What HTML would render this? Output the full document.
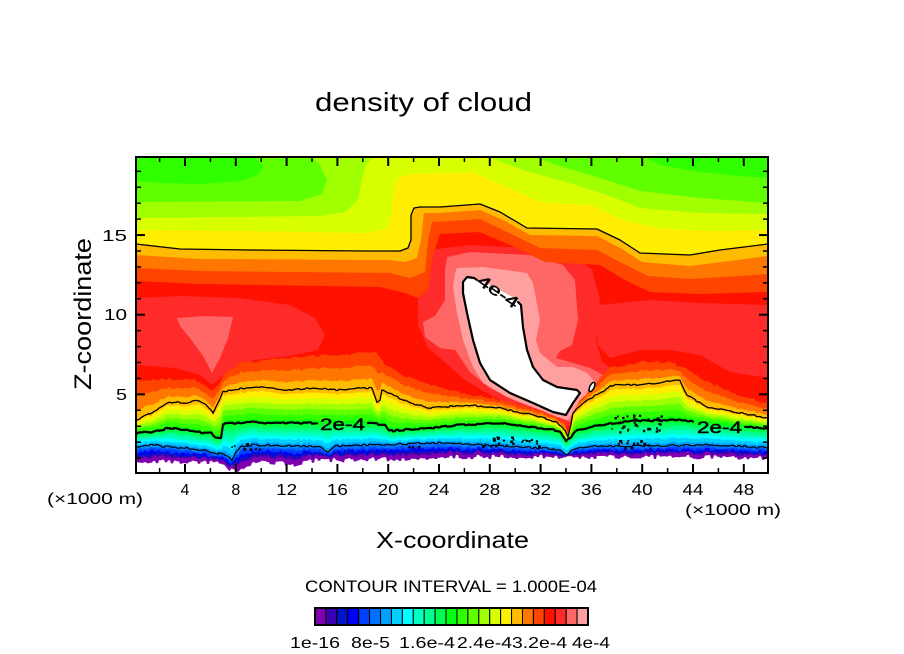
<!DOCTYPE html>
<html><head><meta charset="utf-8">
<style>
html,body{margin:0;padding:0;background:#fff;}
svg{display:block;}
text{font-family:"Liberation Sans",sans-serif;fill:#000;}
</style></head>
<body>
<svg id="s" width="904" height="654" viewBox="0 0 904 654" xmlns="http://www.w3.org/2000/svg">
<defs><clipPath id="cp"><rect x="136" y="157" width="632" height="316"/></clipPath></defs>
<rect width="904" height="654" fill="#fff"/>
<g id="field" clip-path="url(#cp)"></g>
<g id="lines" clip-path="url(#cp)" fill="none" stroke="#000" stroke-linejoin="round" stroke-linecap="round"></g>

<!-- contour labels -->
<text x="342.5" y="430" font-size="17" text-anchor="middle" textLength="45" lengthAdjust="spacingAndGlyphs" stroke="#000" stroke-width="0.5">2e-4</text>
<text x="719.5" y="433" font-size="17" text-anchor="middle" textLength="45" lengthAdjust="spacingAndGlyphs" stroke="#000" stroke-width="0.5">2e-4</text>
<text transform="translate(498,292) rotate(34)" y="5" font-size="16" text-anchor="middle" textLength="46" lengthAdjust="spacingAndGlyphs" stroke="#000" stroke-width="0.5">4e-4</text>

<rect x="136" y="157" width="632" height="316" fill="none" stroke="#000" stroke-width="2"/>
<g id="ticks" stroke="#000"></g>

<!-- title -->
<text x="423.5" y="111" font-size="26" text-anchor="middle" textLength="217" lengthAdjust="spacingAndGlyphs">density of cloud</text>

<!-- y axis -->
<text transform="translate(91,314) rotate(-90)" font-size="24" text-anchor="middle" textLength="152" lengthAdjust="spacingAndGlyphs">Z-coordinate</text>
<text x="127" y="241" font-size="16" text-anchor="end" textLength="25" lengthAdjust="spacingAndGlyphs">15</text>
<text x="127" y="320" font-size="16" text-anchor="end" textLength="23" lengthAdjust="spacingAndGlyphs">10</text>
<text x="127" y="400" font-size="16" text-anchor="end" textLength="11" lengthAdjust="spacingAndGlyphs">5</text>

<!-- x axis -->
<g font-size="16" text-anchor="middle">
<text x="185" y="495">4</text>
<text x="235.8" y="495">8</text>
<text x="286.6" y="495" textLength="21" lengthAdjust="spacingAndGlyphs">12</text>
<text x="337.4" y="495" textLength="21" lengthAdjust="spacingAndGlyphs">16</text>
<text x="388.2" y="495" textLength="21" lengthAdjust="spacingAndGlyphs">20</text>
<text x="439" y="495" textLength="21" lengthAdjust="spacingAndGlyphs">24</text>
<text x="489.8" y="495" textLength="21" lengthAdjust="spacingAndGlyphs">28</text>
<text x="540.6" y="495" textLength="21" lengthAdjust="spacingAndGlyphs">32</text>
<text x="591.4" y="495" textLength="21" lengthAdjust="spacingAndGlyphs">36</text>
<text x="642.2" y="495" textLength="21" lengthAdjust="spacingAndGlyphs">40</text>
<text x="693" y="495" textLength="21" lengthAdjust="spacingAndGlyphs">44</text>
<text x="743.8" y="495" textLength="21" lengthAdjust="spacingAndGlyphs">48</text>
</g>
<text x="95" y="504" font-size="16" text-anchor="middle" textLength="96" lengthAdjust="spacingAndGlyphs">(×1000 m)</text>
<text x="733" y="515" font-size="16" text-anchor="middle" textLength="96" lengthAdjust="spacingAndGlyphs">(×1000 m)</text>
<text x="452.5" y="548" font-size="23" text-anchor="middle" textLength="153" lengthAdjust="spacingAndGlyphs">X-coordinate</text>

<text x="451" y="592" font-size="16.5" text-anchor="middle" textLength="292" lengthAdjust="spacingAndGlyphs">CONTOUR INTERVAL = 1.000E-04</text>

<!-- colorbar -->
<g stroke="#000" stroke-width="1">
<rect x="315.00" y="608" width="10.92" height="17" fill="#8000b0"/>
<rect x="325.92" y="608" width="10.92" height="17" fill="#3c00b4"/>
<rect x="336.84" y="608" width="10.92" height="17" fill="#0014c8"/>
<rect x="347.76" y="608" width="10.92" height="17" fill="#0000f5"/>
<rect x="358.68" y="608" width="10.92" height="17" fill="#0040ff"/>
<rect x="369.60" y="608" width="10.92" height="17" fill="#0070ff"/>
<rect x="380.52" y="608" width="10.92" height="17" fill="#00a0ff"/>
<rect x="391.44" y="608" width="10.92" height="17" fill="#00d0ff"/>
<rect x="402.36" y="608" width="10.92" height="17" fill="#00ffff"/>
<rect x="413.28" y="608" width="10.92" height="17" fill="#00ffc0"/>
<rect x="424.20" y="608" width="10.92" height="17" fill="#00ff90"/>
<rect x="435.12" y="608" width="10.92" height="17" fill="#00ff50"/>
<rect x="446.04" y="608" width="10.92" height="17" fill="#00ff10"/>
<rect x="456.96" y="608" width="10.92" height="17" fill="#30ff00"/>
<rect x="467.88" y="608" width="10.92" height="17" fill="#60ff00"/>
<rect x="478.80" y="608" width="10.92" height="17" fill="#a0ff00"/>
<rect x="489.72" y="608" width="10.92" height="17" fill="#d8ff00"/>
<rect x="500.64" y="608" width="10.92" height="17" fill="#ffee00"/>
<rect x="511.56" y="608" width="10.92" height="17" fill="#ffbb00"/>
<rect x="522.48" y="608" width="10.92" height="17" fill="#ff7700"/>
<rect x="533.40" y="608" width="10.92" height="17" fill="#ff4400"/>
<rect x="544.32" y="608" width="10.92" height="17" fill="#ff1100"/>
<rect x="555.24" y="608" width="10.92" height="17" fill="#ff2a2a"/>
<rect x="566.16" y="608" width="10.92" height="17" fill="#ff6666"/>
<rect x="577.08" y="608" width="10.92" height="17" fill="#ffa0a0"/>
</g>
<rect x="315" y="608" width="273" height="17" fill="none" stroke="#000" stroke-width="2"/>
<g font-size="16" text-anchor="middle">
<text x="315" y="648" textLength="50" lengthAdjust="spacingAndGlyphs">1e-16</text>
<text x="370.5" y="648" textLength="39" lengthAdjust="spacingAndGlyphs">8e-5</text>
<text x="427" y="648" textLength="56" lengthAdjust="spacingAndGlyphs">1.6e-4</text>
<text x="484.5" y="648" textLength="55" lengthAdjust="spacingAndGlyphs">2.4e-4</text>
<text x="539.5" y="648" textLength="55" lengthAdjust="spacingAndGlyphs">3.2e-4</text>
<text x="591" y="648" textLength="38" lengthAdjust="spacingAndGlyphs">4e-4</text>
</g>
</svg>
<script>
(function(){
const NS='http://www.w3.org/2000/svg';
const F=document.getElementById('field'), LN=document.getElementById('lines'), T=document.getElementById('ticks');
function el(tag,attrs,parent){const e=document.createElementNS(NS,tag);for(const k in attrs)e.setAttribute(k,attrs[k]);parent.appendChild(e);return e;}
function ps(p){return p.map(q=>q[0].toFixed(1)+','+q[1].toFixed(1)).join(' ');}
function poly(p,fill){el('polygon',{points:ps(p),fill:fill},F);}
function pline(p,w){el('polyline',{points:ps(p),'stroke-width':w},LN);}
function interp(p,x){
  if(x<=p[0][0])return p[0][1];
  for(let i=1;i<p.length;i++){if(x<=p[i][0]){const a=p[i-1],b=p[i];return b[0]===a[0]?b[1]:a[1]+(b[1]-a[1])*(x-a[0])/(b[0]-a[0]);}}
  return p[p.length-1][1];
}
function h(i,s){const v=Math.sin(i*127.1+s*311.7)*43758.5453;return v-Math.floor(v);}
function nz(x,s,step,amp){return (h(Math.floor(x/step),s)-0.5)*2*amp;}
const C=[null,'#8000b0','#3c00b4','#0014c8','#0000f5','#0040ff','#0070ff','#00a0ff','#00d0ff','#00ffff','#00ffc0','#00ff90','#00ff50','#00ff10','#30ff00','#60ff00','#a0ff00','#d8ff00','#ffee00','#ffbb00','#ff7700','#ff4400','#ff1100','#ff2a2a','#ff6666','#ffa0a0'];

// base red
poly([[130,150],[775,150],[775,480],[130,480]],'#ff1100');

// lighter red patches
poly([[136,298],[180,296],[240,298],[290,305],[315,318],[325,335],[318,350],[290,356],[255,360],[235,368],[220,378],[212,385],[200,375],[175,368],[150,366],[136,365]],'#ff2a2a');
poly([[177,318],[205,316],[233,317],[228,338],[220,358],[212,373],[203,356],[190,338],[180,326]],'#ff6666');
poly([[600,305],[650,300],[700,303],[768,305],[768,378],[730,372],[700,355],[670,350],[640,350],[610,358],[598,345],[595,320]],'#ff2a2a');
poly([[430,250],[470,245],[530,248],[575,256],[592,270],[600,300],[596,340],[602,362],[615,372],[605,388],[590,402],[578,418],[566,428],[540,415],[510,405],[485,392],[462,378],[445,362],[428,348],[418,325],[418,300],[422,270]],'#ff2a2a');
poly([[447,257],[470,252],[530,255],[563,265],[575,280],[578,320],[572,345],[560,351],[556,358],[570,362],[590,368],[603,375],[607,383],[595,395],[580,410],[570,422],[545,412],[515,401],[490,388],[470,372],[455,350],[440,348],[425,337],[423,322],[435,316],[445,300],[445,270]],'#ff6666');
poly([[455,273],[457,268],[483,267],[527,273],[533,283],[540,320],[536,340],[540,353],[557,367],[573,367],[587,373],[595,382],[588,392],[582,402],[573,413],[568,420],[557,417],[533,407],[507,397],[483,383],[473,367],[463,340],[457,313],[453,287]],'#ffa0a0');

// upper bands
const U3=[[136,244],[180,249],[250,250],[365,251],[400,251],[408,248],[411,240],[411,215],[414,208],[420,207],[440,207],[480,204],[500,212],[527,228],[597,229],[620,240],[640,253],[690,255],[720,250],[768,244]];
const U17=[[136,230],[250,231],[370,233],[388,228],[392,210],[394,190],[398,178],[410,174],[440,173],[473,172],[507,187],[540,202],[590,205],[623,220],[657,228],[707,231],[768,230]];
const U19=[[136,255],[200,259],[390,260],[405,262],[417,258],[421,240],[424,213],[440,213],[480,210],[505,221],[530,235],[597,236],[622,249],[642,262],[690,266],[730,261],[768,256]];
const U20=[[136,268],[200,271],[390,273],[410,278],[425,272],[428,240],[432,222],[450,221],[480,219],[507,232],[540,248],[597,250],[622,263],[648,276],[690,279],[740,276],[768,274]];
const U21=[[136,281],[200,284],[380,287],[405,293],[418,298],[428,290],[433,255],[440,234],[460,233],[480,232],[510,245],[545,262],[600,265],[625,280],[650,292],[700,294],[768,292]];
function top(U){return [[130,150],[775,150],[775,U[U.length-1][1]]].concat(U.slice().reverse()).concat([[130,U[0][1]]]);}
poly(top(U21),'#ff4400');
poly(top(U20),'#ff7700');
poly(top(U19),'#ffbb00');
poly(top(U3),'#ffee00');
poly(top(U17),'#d8ff00');
poly([[130,150],[373,150],[373,157],[366,165],[362,180],[358,200],[345,212],[320,216],[136,218],[130,218]],'#a0ff00');
poly([[488,150],[488,157],[523,170],[573,184],[607,195],[640,208],[700,213],[768,214],[775,214],[775,150]],'#a0ff00');
poly([[130,150],[312,150],[312,157],[320,165],[327,180],[322,194],[300,201],[136,202],[130,202]],'#60ff00');
poly([[535,150],[535,157],[560,166],[600,178],[640,191],[700,198],[768,203],[775,203],[775,150]],'#60ff00');
poly([[130,150],[255,150],[255,157],[263,166],[258,175],[240,181],[200,184],[160,183],[136,181],[130,181]],'#30ff00');
poly([[645,150],[645,157],[660,165],[700,172],[740,176],[768,178],[775,178],[775,150]],'#30ff00');

// lower reference lines
const xs=[];for(let x=136;x<=768;x++)xs.push(x);
const L1p=[[136,447],[153,445],[169,447],[186,448],[203,450],[216,453],[226,455],[232,460],[236,451],[242,446],[250,445],[300,446],[320,447],[328,452],[336,446],[400,444],[440,443],[500,446],[540,448],[560,450],[566,455],[572,450],[580,447],[600,446],[650,446],[700,445],[740,446],[768,448]];
const L2p=[[136,433],[153,432],[169,428],[186,430],[203,433],[211,433],[216,438],[221,438],[223,424],[236,423],[253,422],[269,423],[286,423],[303,423],[370,423],[385,425],[390,431],[400,430],[430,428],[460,425],[500,423],[533,427],[560,431],[566,441],[571,437],[577,430],[600,425],[630,421],[680,420],[700,422],[740,426],[768,429]];
const L3p=[[136,420],[153,412],[169,402],[186,403],[196,400],[206,405],[213,413],[218,403],[223,392],[236,389],[263,387],[286,390],[313,388],[336,390],[360,388],[372,388],[377,402],[380,400],[382,390],[395,396],[410,403],[430,408],[467,405],[500,408],[533,415],[557,422],[565,430],[568,437],[571,425],[573,413],[587,400],[600,393],[613,385],[640,385],[660,383],[673,380],[680,381],[687,395],[707,407],[740,413],[768,418]];
const L4p=[[136,381],[170,379],[195,379],[205,386],[212,391],[218,386],[225,373],[240,363],[300,357],[360,353],[375,352],[385,365],[400,374],[420,381],[440,388],[467,394],[500,400],[533,409],[555,415],[565,423],[568,433],[572,415],[580,401],[595,383],[610,368],[640,362],[670,362],[685,368],[700,378],[730,392],[768,404]];
const Lbp=[[136,461],[200,462],[224,463],[229,469],[238,471],[245,467],[255,462],[282,463],[290,466],[298,464],[308,461],[350,460],[400,459],[440,457],[560,457],[600,457],[700,457],[768,458]];
function samp(p,s,step,amp){return xs.map(x=>interp(p,x)+(amp?nz(x,s,step,amp):0));}
const A1=samp(L1p,1,3,0.9),A2=samp(L2p,2,3,0.7),A3=samp(L3p,3,3,0.7),A4=samp(L4p,4,4,1.0),Lb=samp(Lbp,5,3,2.2);
const fT=[0,.31,.42,.52,.64,.8,.94];
const gT={19:.25,20:.62,21:1};
function yv(v,i){
  const b=Lb[i],a1=A1[i],a2=A2[i],a3=A3[i],a4=A4[i];
  if(v<=6.25){let f;if(v>=6)f=.94+(v-6)/.25*.06;else{const k=Math.floor(v);f=fT[k]+(fT[k+1]-fT[k])*(v-k);}return b+(a1-b)*f;}
  if(v<=12.5)return a1+(a2-a1)*(v-6.25)/6.25;
  if(v<=18.75)return a2+(a3-a2)*(v-12.5)/6.25;
  return a3+(a4-a3)*gT[v];
}
for(let v=21;v>=1;v--){
  const amp=v<7?1.2:0.6;
  const p=[[130,480],[130,yv(v,0)]];
  xs.forEach((x,i)=>p.push([x,Math.min(474,yv(v,i)+nz(x,v+10,2,amp))]));
  p.push([775,yv(v,xs.length-1)],[775,480]);
  poly(p,C[v]);
}
{const p=[[130,480],[130,Lb[0]]];xs.forEach((x,i)=>p.push([x,Lb[i]]));p.push([775,Lb[xs.length-1]],[775,480]);poly(p,'#ffffff');}

// white blob
const blob=[[463,282],[467,277],[474,278],[490,285],[505,293],[518,300],[521,305],[523,327],[527,350],[533,367],[543,380],[557,387],[577,390],[580,393],[573,403],[567,413],[566,415],[553,412],[533,403],[510,393],[490,380],[480,363],[473,340],[467,313],[463,293]];
poly(blob,'#ffffff');

// contour lines
pline(U3,1.3);
pline(xs.map((x,i)=>[x,A3[i]]),1.3);
pline(xs.map((x,i)=>[x,A1[i]]),1.2);
let seg=[];
xs.forEach((x,i)=>{const gap=(x>=318&&x<=367)||(x>=694&&x<=744);if(gap){if(seg.length>1)pline(seg,2.2);seg=[];}else seg.push([x,A2[i]]);});
if(seg.length>1)pline(seg,2.2);
pline([[518,302],[521,305],[523,327],[527,350],[533,367],[543,380],[557,387],[577,390],[580,393],[573,403],[567,413],[566,415],[553,412],[533,403],[510,393],[490,380],[480,363],[473,340],[467,313],[463,293],[463,282],[467,277],[474,278],[477,280]],2.2);
el('ellipse',{cx:592,cy:387,rx:2.2,ry:5,transform:'rotate(25 592 387)',fill:'#fff','stroke-width':1.5},LN);

// speckles
function cluster(cx,cy,w,hh,n,s){for(let i=0;i<n;i++){const x=cx+(h(i,s)-0.5)*w,y=cy+(h(i,s+50)-0.5)*hh;const sz=1.4+h(i,s+90)*1.6;el('rect',{x:x.toFixed(1),y:y.toFixed(1),width:sz.toFixed(1),height:sz.toFixed(1),fill:'#000',stroke:'none'},LN);}}
cluster(636,423,52,18,34,21);
cluster(510,441,60,10,26,22);
cluster(632,443,36,10,16,23);
cluster(246,446,30,6,9,24);
cluster(412,446,20,4,4,25);

// ticks
for(let k=2;k<=48;k+=2){const x=134.2+12.7*k;const M=k%4===0;const L=M?9:5,w=M?2:1.5;
  el('line',{x1:x,y1:473,x2:x,y2:473-L,'stroke-width':w},T);
  el('line',{x1:x,y1:157,x2:x,y2:157+L,'stroke-width':w},T);}
for(let k=1;k<=19;k++){const y=474-15.93*k;const M=k%5===0;const L=M?9:5,w=M?2:1.5;
  el('line',{x1:136,y1:y,x2:136+L,y2:y,'stroke-width':w},T);
  el('line',{x1:768,y1:y,x2:768-L,y2:y,'stroke-width':w},T);}
})();
</script>
</body></html>
